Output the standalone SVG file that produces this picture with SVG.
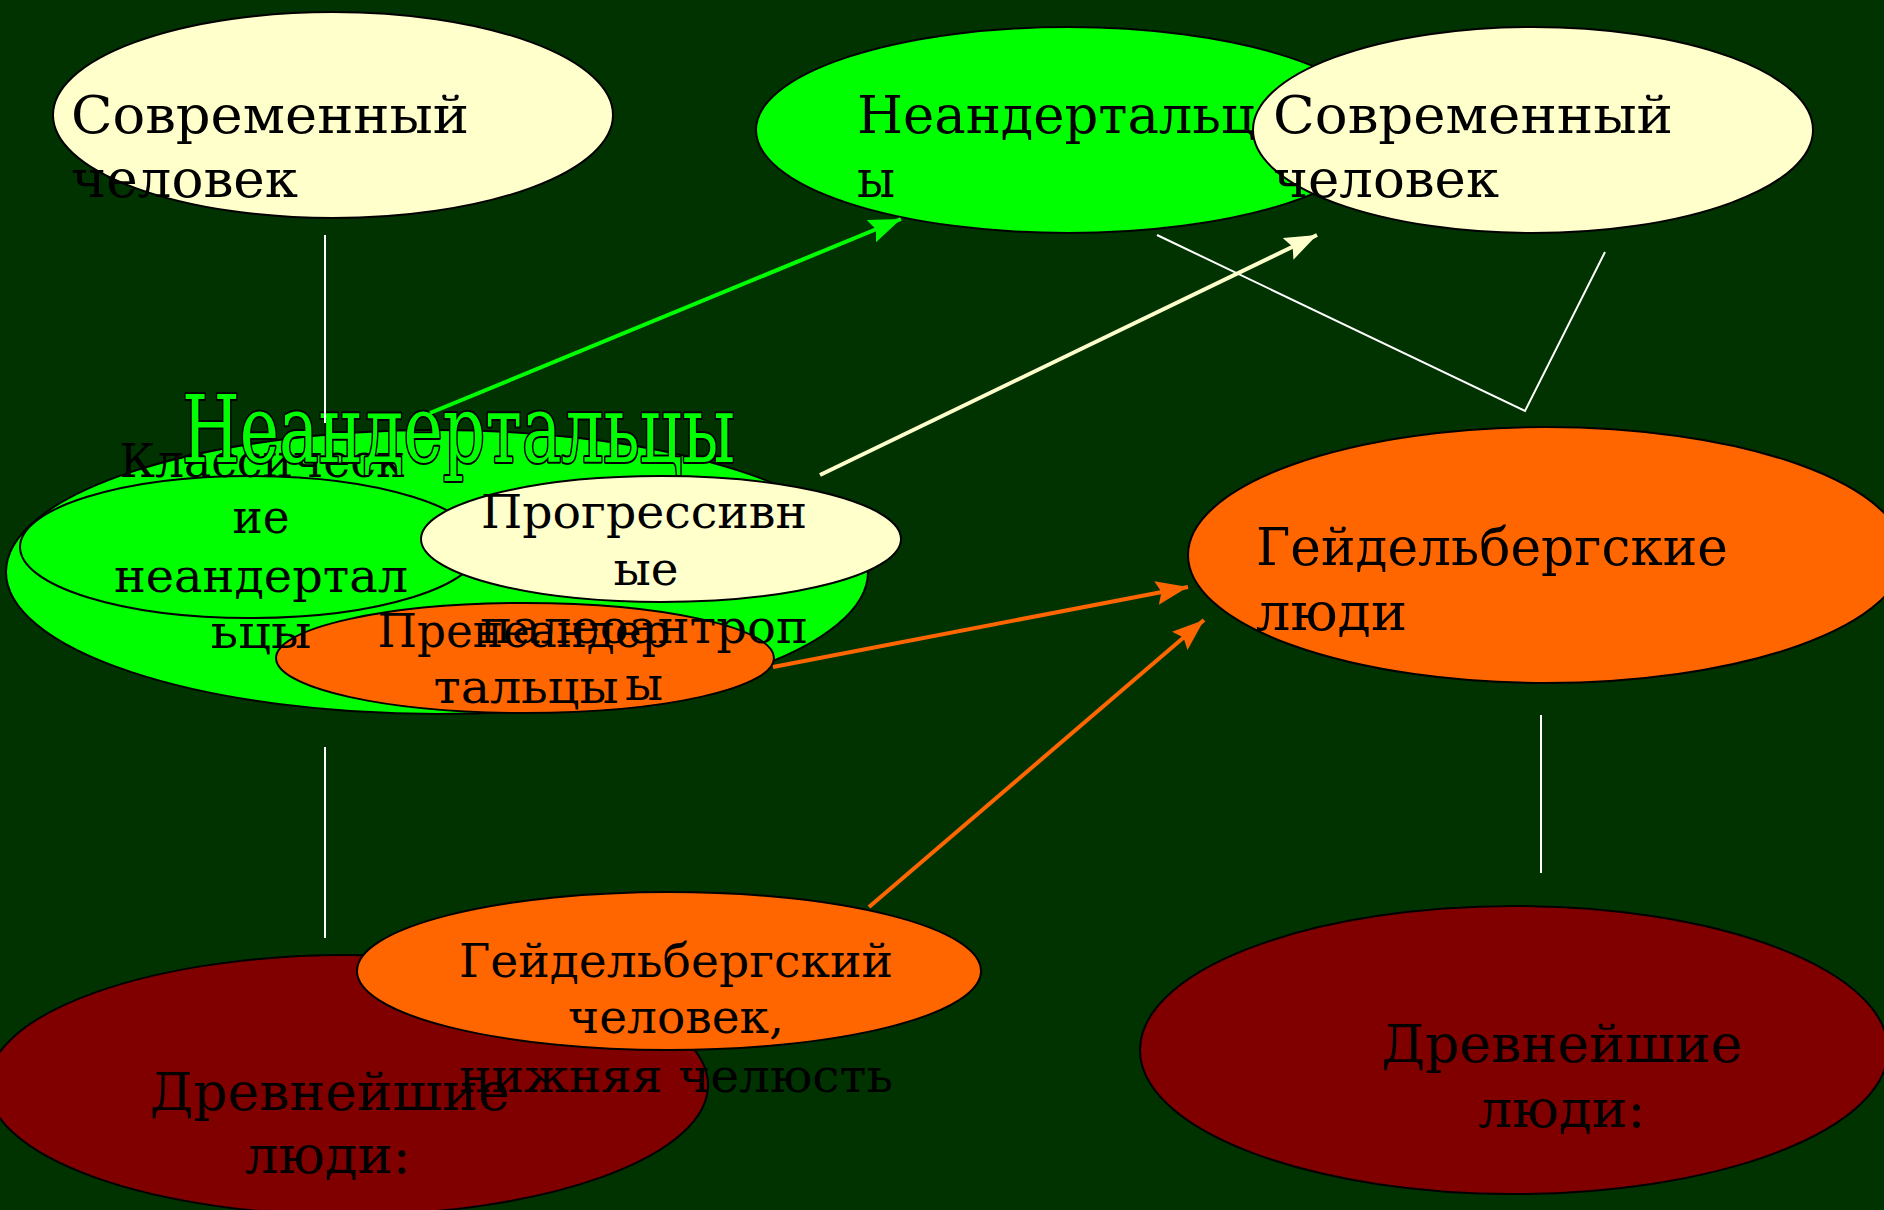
<svg xmlns="http://www.w3.org/2000/svg" width="1884" height="1210" viewBox="0 0 1884 1210">
<style>
.n{stroke:#000;stroke-width:2}
.cream{fill:#FFFFCC}.green{fill:#00FF00}.orange{fill:#FF6600}.red{fill:#800000}
.t{font-family:"DejaVu Serif","Liberation Serif",serif;fill:#000}
.L{font-size:52px}.S{font-size:46px}
.c{text-anchor:middle}
.title{font-family:"DejaVu Serif","Liberation Serif",serif;font-size:93px;fill:#00FF00;stroke:#000;stroke-width:4;paint-order:stroke;stroke-linejoin:round}
.ln{fill:none;stroke:#fff;stroke-width:2}
</style>
<defs>
<marker id="ag" markerUnits="userSpaceOnUse" markerWidth="34" markerHeight="24" refX="32" refY="12" orient="auto"><path d="M0,0L32,12L0,24L5,12Z" fill="#00FF00"/></marker>
<marker id="ac" markerUnits="userSpaceOnUse" markerWidth="34" markerHeight="24" refX="32" refY="12" orient="auto"><path d="M0,0L32,12L0,24L5,12Z" fill="#FFFFCC"/></marker>
<marker id="ao" markerUnits="userSpaceOnUse" markerWidth="34" markerHeight="24" refX="32" refY="12" orient="auto"><path d="M0,0L32,12L0,24L5,12Z" fill="#FF6600"/></marker>
</defs>
<rect width="1884" height="1210" fill="#003300"/>

<g id="modern-left">
<ellipse class="n cream" cx="333" cy="115" rx="280" ry="103"/>
<text class="t L" x="71" y="133" textLength="398" lengthAdjust="spacingAndGlyphs">Современный</text>
<text class="t L" x="71" y="197" textLength="227" lengthAdjust="spacingAndGlyphs">человек</text>
</g>

<g id="neanderthals-top">
<ellipse class="n green" cx="1068" cy="130" rx="312" ry="103"/>
</g>
<g id="modern-right">
<ellipse class="n cream" cx="1533" cy="130" rx="280" ry="103"/>
</g>
<g id="neanderthals-top-text">
<text class="t L" x="857" y="133" textLength="398" lengthAdjust="spacingAndGlyphs">Неандертальц</text>
<text class="t L" x="857" y="197" textLength="38" lengthAdjust="spacingAndGlyphs">ы</text>
</g>
<g id="modern-right-text">
<text class="t L" x="1273" y="133" textLength="400" lengthAdjust="spacingAndGlyphs">Современный</text>
<text class="t L" x="1273" y="197" textLength="226" lengthAdjust="spacingAndGlyphs">человек</text>
</g>

<g id="heidelberg-people">
<ellipse class="n orange" cx="1546" cy="555" rx="358" ry="128"/>
<text class="t L" x="1256" y="565" textLength="472" lengthAdjust="spacingAndGlyphs">Гейдельбергские</text>
<text class="t L" x="1256" y="630" textLength="151" lengthAdjust="spacingAndGlyphs">люди</text>
</g>

<g id="ancient-right">
<ellipse class="n red" cx="1514" cy="1050" rx="374" ry="144"/>
<text class="t L c" x="1562" y="1062" textLength="361" lengthAdjust="spacingAndGlyphs">Древнейшие</text>
<text class="t L c" x="1562" y="1127" textLength="167" lengthAdjust="spacingAndGlyphs">люди:</text>
</g>

<g id="neanderthals-group">
<ellipse class="n green" cx="437" cy="572" rx="431" ry="142"/>
</g>
<g id="classic-neanderthals">
<ellipse class="n green" cx="250" cy="547" rx="230" ry="71"/>
</g>
<g id="progressive-paleoanthropes">
<ellipse class="n cream" cx="661" cy="539" rx="240" ry="63"/>
</g>
<g id="preneanderthals">
<ellipse class="n orange" cx="525" cy="658" rx="249" ry="55"/>
</g>
<g id="classic-neanderthals-text">
<text class="t S c" x="262" y="477" textLength="285" lengthAdjust="spacingAndGlyphs">Классическ</text>
<text class="t S c" x="261" y="533" textLength="57" lengthAdjust="spacingAndGlyphs">ие</text>
<text class="t S c" x="261" y="592" textLength="294" lengthAdjust="spacingAndGlyphs">неандертал</text>
<text class="t S c" x="261" y="648" textLength="101" lengthAdjust="spacingAndGlyphs">ьцы</text>
</g>
<g id="progressive-paleoanthropes-text">
<text class="t S c" x="644" y="528" textLength="326" lengthAdjust="spacingAndGlyphs">Прогрессивн</text>
<text class="t S c" x="646" y="585" textLength="65" lengthAdjust="spacingAndGlyphs">ые</text>
<text class="t S c" x="644" y="643" textLength="328" lengthAdjust="spacingAndGlyphs">палеоантроп</text>
<text class="t S c" x="644" y="700" textLength="38" lengthAdjust="spacingAndGlyphs">ы</text>
</g>
<g id="preneanderthals-text">
<text class="t S c" x="524" y="647" textLength="293" lengthAdjust="spacingAndGlyphs">Пренеандер</text>
<text class="t S c" x="526" y="703" textLength="185" lengthAdjust="spacingAndGlyphs">тальцы</text>
</g>
<g id="neanderthals-title">
<text class="title" x="182" y="462" textLength="553" lengthAdjust="spacingAndGlyphs">Неандертальцы</text>
</g>

<g id="ancient-left">
<ellipse class="n red" cx="348" cy="1085" rx="360" ry="130"/>
</g>
<g id="heidelberg-man">
<ellipse class="n orange" cx="669" cy="971" rx="312" ry="79"/>
</g>
<g id="ancient-left-text">
<text class="t L c" x="330" y="1110" textLength="360" lengthAdjust="spacingAndGlyphs">Древнейшие</text>
<text class="t L c" x="328" y="1173" textLength="166" lengthAdjust="spacingAndGlyphs">люди:</text>
</g>
<g id="heidelberg-man-text">
<text class="t S c" x="676" y="977" textLength="434" lengthAdjust="spacingAndGlyphs">Гейдельбергский</text>
<text class="t S c" x="676" y="1033" textLength="216" lengthAdjust="spacingAndGlyphs">человек,</text>
<text class="t S c" x="676" y="1092" textLength="434" lengthAdjust="spacingAndGlyphs">нижняя челюсть</text>
</g>

<g id="connectors">
<line class="ln" x1="325" y1="235" x2="325" y2="423"/>
<line class="ln" x1="325" y1="747" x2="325" y2="938"/>
<line class="ln" x1="1541" y1="715" x2="1541" y2="873"/>
<polyline class="ln" stroke-width="2.5" points="1157,235 1525,411 1605,252"/>
<line x1="430" y1="413" x2="901" y2="219" stroke="#00FF00" stroke-width="4" marker-end="url(#ag)"/>
<line x1="820" y1="475" x2="1317" y2="235" stroke="#FFFFCC" stroke-width="4" marker-end="url(#ac)"/>
<line x1="773" y1="667" x2="1188" y2="587" stroke="#FF6600" stroke-width="4" marker-end="url(#ao)"/>
<line x1="869" y1="907" x2="1204" y2="620" stroke="#FF6600" stroke-width="4" marker-end="url(#ao)"/>
</g>
</svg>
